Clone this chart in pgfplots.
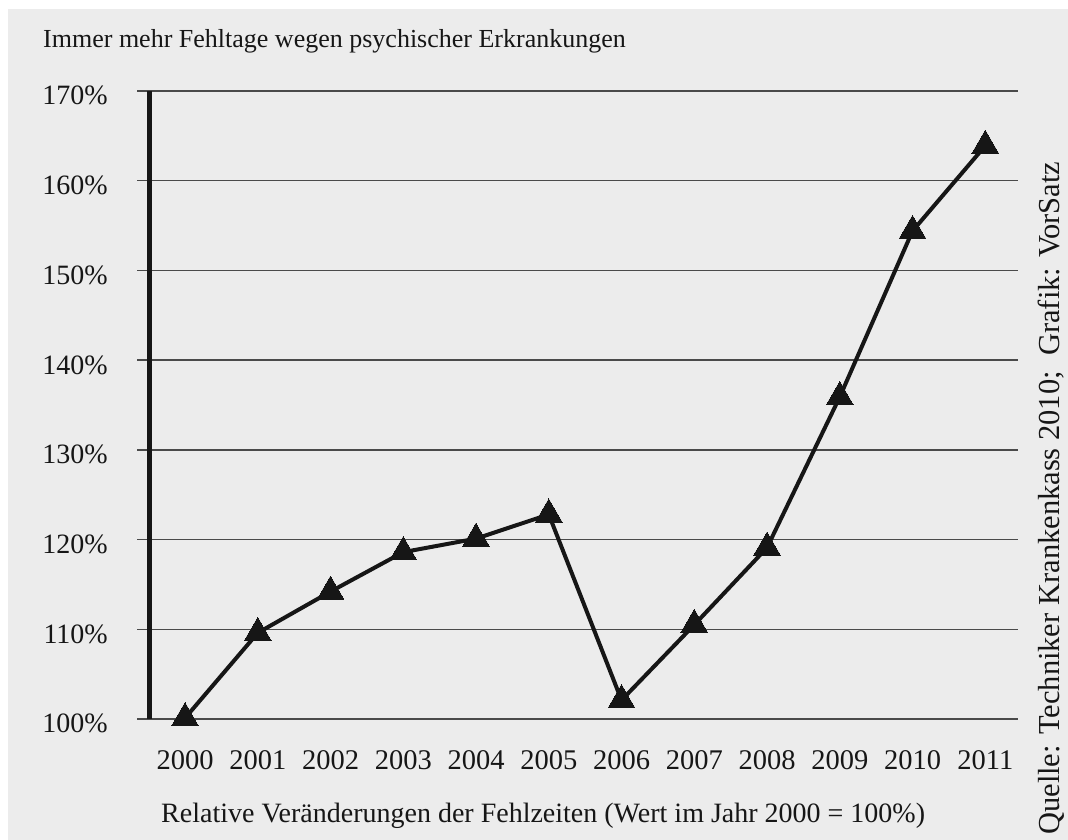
\documentclass[border=0pt]{standalone}
\usepackage{fontspec}
\setmainfont{Liberation Serif}
\usepackage{pgfplots}
\pgfplotsset{compat=1.18}
\definecolor{bgGray}{HTML}{ECECEC}
\definecolor{gridGray}{HTML}{4A4A4A}
\definecolor{inkBlack}{HTML}{161616}

\begin{document}
\begin{tikzpicture}[x=1bp,y=1bp]
% background panel
\fill[white] (0,0) rectangle (1068,840);
\fill[bgGray] (8,0) rectangle (1068,831);

\begin{axis}[
    at={(137bp,121bp)}, anchor=south west,
    scale only axis,
    width=881bp, height=628bp,
    xmin=-0.66, xmax=11.45,
    ymin=100, ymax=170,
    clip=false,
    axis line style={draw=none},
    major tick length=0pt,
    xtick={0,...,11},
    xticklabels={2000,2001,2002,2003,2004,2005,2006,2007,2008,2009,2010,2011},
    ytick={100,110,...,170},
    yticklabels={100\%,110\%,120\%,130\%,140\%,150\%,160\%,170\%},
    ymajorgrids,
    grid style={gridGray, line width=1.4bp},
    /pgf/number format/assume math mode=true,
    xticklabel style={font=\fontsize{28.5bp}{30bp}\selectfont, text=inkBlack,
                      anchor=base, inner sep=0pt, yshift=-51bp},
    yticklabel style={font=\fontsize{28bp}{30bp}\selectfont, text=inkBlack,
                      anchor=base east, inner sep=0pt, xshift=-29bp, yshift=-14bp},
]
% thick left axis line
\draw[inkBlack, line width=5bp] (axis cs:-0.495,100) -- (axis cs:-0.495,170);

% relative sick days, 2000 = 100 %
\addplot[inkBlack, line width=4bp, line join=round,
         mark=triangle*, mark size=15.5bp,
         mark options={fill=inkBlack, line width=0pt}]
coordinates {
    (0, 100.1) (1, 109.6) (2, 114.2) (3, 118.6) (4, 120.1) (5, 122.8)
    (6, 102.1) (7, 110.5) (8, 119.1) (9, 135.9) (10, 154.4) (11, 163.9)
};
\end{axis}

\node[anchor=base west, inner sep=0pt, text=inkBlack,
      font=\fontsize{26bp}{30bp}\selectfont] at (43,792)
      {Immer mehr Fehltage wegen psychischer Erkrankungen};
\node[anchor=base west, inner sep=0pt, text=inkBlack,
      font=\fontsize{28bp}{30bp}\selectfont] at (161,17)
      {Relative Veränderungen der Fehlzeiten (Wert im Jahr 2000 = 100\%)};
\node[anchor=base west, inner sep=0pt, rotate=90, text=inkBlack,
      font=\fontsize{30.5bp}{32bp}\selectfont] at (1059,5)
      {Quelle: Techniker Krankenkass 2010;\ \ Grafik: VorSatz};
\end{tikzpicture}
\end{document}
